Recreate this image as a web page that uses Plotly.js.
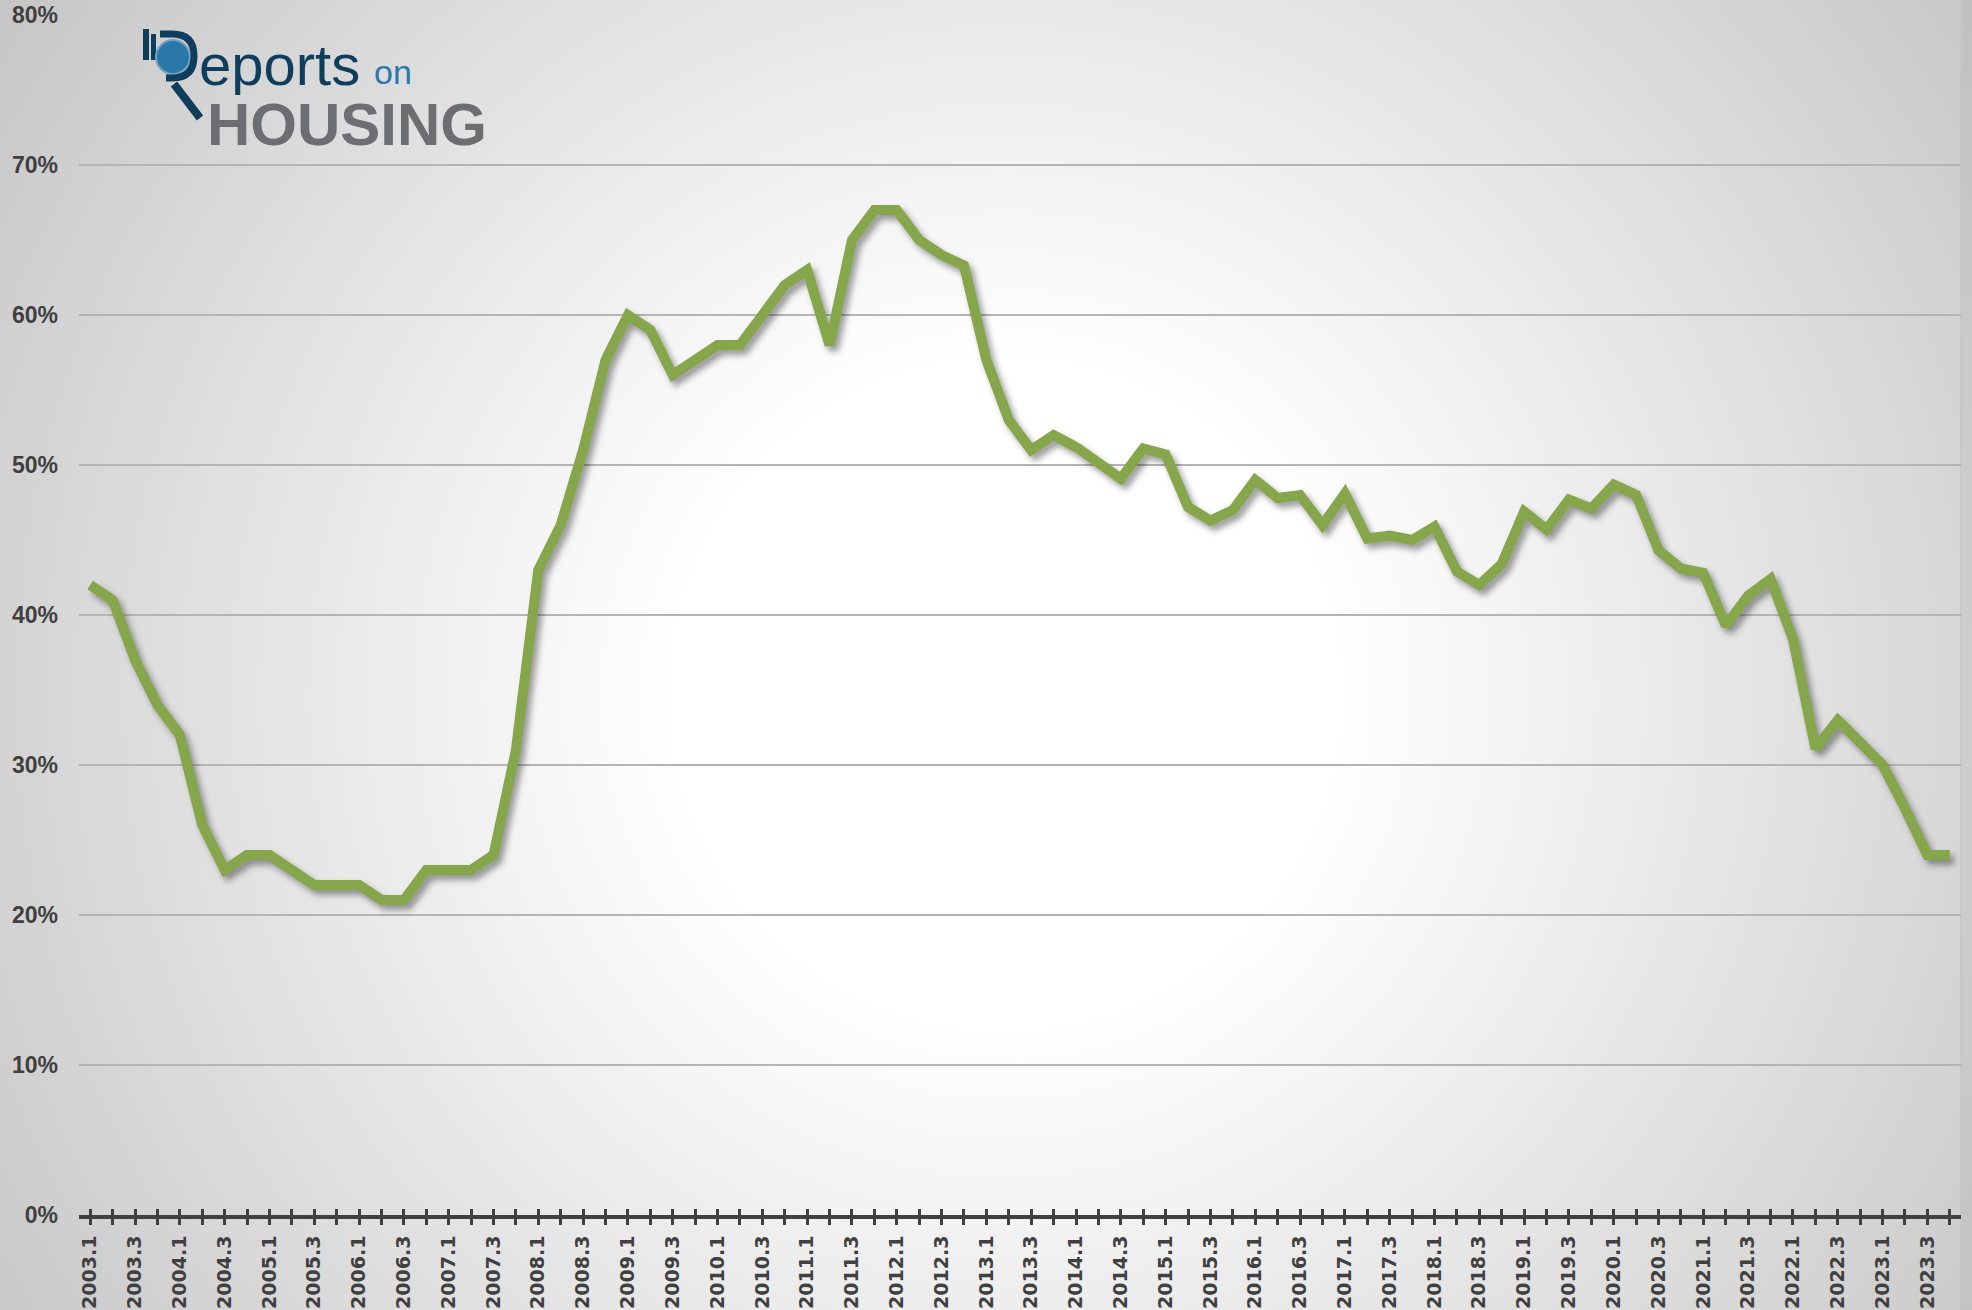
<!DOCTYPE html>
<html>
<head>
<meta charset="utf-8">
<script src="https://cdn.plot.ly/plotly-3.0.1.min.js"></script>
<style>
  html, body { margin: 0; padding: 0; }
  #chart {
    width: 1972px; height: 1310px;
    background: radial-gradient(circle at 51% 53%, #ffffff 0px, #ffffff 330px, #c6c6c6 1220px);
  }
  #chart .scatterlayer .trace path.js-line {
    filter: drop-shadow(4px 5px 3px rgba(0,0,0,0.38));
  }
</style>
</head>
<body>
<div id="chart"></div>
<script>
// ---- Data ----
const quarters = [
  "2003.1","2003.2","2003.3","2003.4","2004.1","2004.2","2004.3","2004.4",
  "2005.1","2005.2","2005.3","2005.4","2006.1","2006.2","2006.3","2006.4",
  "2007.1","2007.2","2007.3","2007.4","2008.1","2008.2","2008.3","2008.4",
  "2009.1","2009.2","2009.3","2009.4","2010.1","2010.2","2010.3","2010.4",
  "2011.1","2011.2","2011.3","2011.4","2012.1","2012.2","2012.3","2012.4",
  "2013.1","2013.2","2013.3","2013.4","2014.1","2014.2","2014.3","2014.4",
  "2015.1","2015.2","2015.3","2015.4","2016.1","2016.2","2016.3","2016.4",
  "2017.1","2017.2","2017.3","2017.4","2018.1","2018.2","2018.3","2018.4",
  "2019.1","2019.2","2019.3","2019.4","2020.1","2020.2","2020.3","2020.4",
  "2021.1","2021.2","2021.3","2021.4","2022.1","2022.2","2022.3","2022.4",
  "2023.1","2023.2","2023.3","2023.4"
];
const shareValues = [
  42.0, 41.0, 37.0, 34.0, 32.0, 26.0, 23.0, 24.0,
  24.0, 23.0, 22.0, 22.0, 22.0, 21.0, 21.0, 23.0,
  23.0, 23.0, 24.0, 31.0, 43.0, 46.0, 51.0, 57.0,
  60.0, 59.0, 56.0, 57.0, 58.0, 58.0, 60.0, 62.0,
  63.0, 58.0, 65.0, 67.0, 67.0, 65.0, 64.0, 63.3,
  57.0, 53.0, 51.0, 52.0, 51.2, 50.1, 49.1, 51.1,
  50.7, 47.2, 46.3, 47.0, 49.0, 47.8, 48.0, 46.0,
  48.1, 45.1, 45.3, 45.0, 45.9, 42.9, 42.0, 43.4,
  46.9, 45.7, 47.7, 47.1, 48.7, 48.0, 44.3, 43.1,
  42.8, 39.3, 41.3, 42.4, 38.4, 31.1, 33.0, 31.5,
  30.0, 27.1, 24.0, 24.0
];
const yTickVals = [0, 10, 20, 30, 40, 50, 60, 70, 80];
const yTickText = ["0%", "10%", "20%", "30%", "40%", "50%", "60%", "70%", "80%"];
// label every other quarter
const xTickText = quarters.map((q, i) => (i % 2 === 0 ? q : ""));

// ---- Layout helpers (pixel -> paper) ----
const W = 1972, H = 1310;
const M = { l: 79, r: 11, t: 15, b: 95 };
const PW = W - M.l - M.r, PH = H - M.t - M.b;
const px = x => (x - M.l) / PW;
const py = y => (H - M.b - y) / PH;

const navy = "#0f3d5c";
const trace = {
  type: "scatter",
  mode: "lines",
  x: quarters,
  y: shareValues,
  line: { color: "#86a64b", width: 10 },
  hoverinfo: "x+y"
};
const dummy = { type: "scatter", x: [], y: [], xaxis: "x2", yaxis: "y", showlegend: false };

const layout = {
  width: W, height: H,
  margin: M,
  paper_bgcolor: "rgba(0,0,0,0)",
  plot_bgcolor: "rgba(0,0,0,0)",
  showlegend: false,
  xaxis: {
    type: "category",
    range: [-0.5, quarters.length - 0.5],
    tickmode: "array",
    tickvals: quarters,
    ticktext: xTickText,
    tickangle: -90,
    ticks: "outside",
    ticklen: 6,
    tickwidth: 3,
    tickcolor: "#404040",
    showline: true,
    linecolor: "#404040",
    linewidth: 4,
    showgrid: false,
    zeroline: false,
    ticklabelstandoff: 3,
    tickfont: { family: "DejaVu Sans", size: 19, color: "#404040", weight: "bold" }
  },
  xaxis2: {
    overlaying: "x",
    anchor: "y",
    side: "bottom",
    range: [-0.5, quarters.length - 0.5],
    tickmode: "linear",
    tick0: 0,
    dtick: 1,
    ticks: "inside",
    ticklen: 6,
    tickwidth: 3,
    tickcolor: "#404040",
    showticklabels: false,
    showgrid: false,
    zeroline: false,
    showline: false
  },
  yaxis: {
    range: [0, 80],
    tickmode: "array",
    tickvals: yTickVals,
    ticktext: yTickText,
    ticks: "",
    showline: false,
    zeroline: false,
    showgrid: true,
    gridcolor: "#b4b4b4",
    gridwidth: 1.5,
    ticklabelstandoff: 20,
    tickfont: { family: "Liberation Sans", size: 23, color: "#404040", weight: "bold" }
  },
  shapes: [
    // right edge strip
    { type: "rect", xref: "paper", yref: "paper", x0: 1, x1: px(W), y0: py(H), y1: py(0),
      fillcolor: "rgba(0,0,0,0.04)", line: { width: 0 }, layer: "below" },
    { type: "line", xref: "paper", yref: "paper", x0: 1, x1: 1, y0: py(H), y1: py(0),
      line: { color: "#c4c4c4", width: 1.5 }, layer: "below" },
    // logo: bars
    { type: "rect", xref: "paper", yref: "paper", x0: px(143), x1: px(149), y0: py(60), y1: py(29),
      fillcolor: navy, line: { width: 0 } },
    { type: "rect", xref: "paper", yref: "paper", x0: px(151), x1: px(156), y0: py(60), y1: py(34),
      fillcolor: navy, line: { width: 0 } },
    // logo: pie disc
    { type: "circle", xref: "paper", yref: "paper", x0: px(156), x1: px(190), y0: py(74), y1: py(40),
      fillcolor: "#2a78a8", line: { color: "#7aa0c8", width: 2 } },
    // logo: R bowl
    { type: "path", xref: "paper", yref: "paper",
      path: `M ${px(160)},${py(34)} L ${px(172)},${py(34)} Q ${px(194)},${py(34)} ${px(194)},${py(56)} Q ${px(194)},${py(78)} ${px(172)},${py(78)} L ${px(166)},${py(78)}`,
      line: { color: navy, width: 7 } },
    // logo: handle
    { type: "line", xref: "paper", yref: "paper", x0: px(174), x1: px(200), y0: py(84), y1: py(118),
      line: { color: navy, width: 8 } }
  ],
  annotations: [
    { text: "eports", xref: "paper", yref: "paper", x: px(197), y: py(64), xanchor: "left", yanchor: "middle",
      height: 62, showarrow: false, font: { family: "Liberation Sans", size: 58, color: navy } },
    { text: "on", xref: "paper", yref: "paper", x: px(372), y: py(72), xanchor: "left", yanchor: "middle",
      showarrow: false, font: { family: "Liberation Sans", size: 34, color: "#2a78a8" } },
    { text: "HOUSING", xref: "paper", yref: "paper", x: px(205), y: py(124), xanchor: "left", yanchor: "middle",
      height: 54, showarrow: false, font: { family: "Liberation Sans", size: 60, color: "#6d6e71", weight: "bold" } }
  ]
};

Plotly.newPlot("chart", [trace, dummy], layout, { displayModeBar: false, staticPlot: true });
</script>
</body>
</html>
